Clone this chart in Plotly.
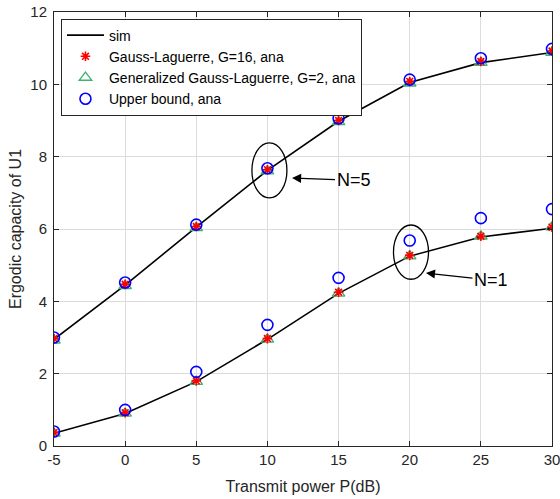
import plotly.graph_objects as go

P_dB = [-5, 0, 5, 10, 15, 20, 25, 30]

sim_N5 = [2.95, 4.45, 6.05, 7.62, 8.98, 10.05, 10.60, 10.88]
gl_N5 = [2.97, 4.47, 6.07, 7.64, 9.00, 10.08, 10.63, 10.92]
ggl_N5 = [2.92, 4.43, 6.03, 7.60, 8.96, 10.03, 10.60, 10.88]
ub_N5 = [3.00, 4.52, 6.12, 7.68, 9.06, 10.13, 10.72, 10.98]

sim_N1 = [0.35, 0.90, 1.78, 2.95, 4.22, 5.25, 5.78, 6.02]
gl_N1 = [0.37, 0.92, 1.80, 2.97, 4.25, 5.27, 5.80, 6.05]
ggl_N1 = [0.35, 0.90, 1.78, 2.95, 4.22, 5.25, 5.80, 6.05]
ub_N1 = [0.40, 1.00, 2.05, 3.35, 4.65, 5.68, 6.30, 6.55]

x_ticks = [-5, 0, 5, 10, 15, 20, 25, 30]
x_tick_text = ["-5", "0", "5", "10", "15", "20", "25", "30"]
y_ticks = [0, 2, 4, 6, 8, 10, 12]

FONT = "Liberation Sans, Arial, Helvetica, sans-serif"

fig = go.Figure()

for i, (s, g, gg, u) in enumerate([(sim_N5, gl_N5, ggl_N5, ub_N5), (sim_N1, gl_N1, ggl_N1, ub_N1)]):
    show = i == 0
    fig.add_trace(go.Scatter(x=P_dB, y=s, mode="lines", name="sim", legendgroup="sim",
                             showlegend=show, legendrank=1,
                             line=dict(color="black", width=1.6)))
    fig.add_trace(go.Scatter(x=P_dB, y=gg, mode="markers", name="Generalized Gauss-Laguerre, G=2, ana",
                             legendgroup="ggl", showlegend=show, legendrank=3,
                             marker=dict(symbol="triangle-up-open", size=11, color="#3cb371",
                                         line=dict(width=1.3, color="#3cb371"))))
    fig.add_trace(go.Scatter(x=P_dB, y=g, mode="markers", name="Gauss-Laguerre, G=16, ana",
                             legendgroup="gl", showlegend=show, legendrank=2,
                             marker=dict(symbol="asterisk-open", size=8, color="red",
                                         line=dict(width=1.6, color="red"))))
    fig.add_trace(go.Scatter(x=P_dB, y=u, mode="markers", name="Upper bound, ana",
                             legendgroup="ub", showlegend=show, legendrank=4,
                             marker=dict(symbol="circle-open", size=11, color="blue",
                                         line=dict(width=1.6, color="blue"))))

# ellipses
fig.add_shape(type="circle", xref="x", yref="y", x0=10.14 - 1.23, x1=10.14 + 1.23,
              y0=7.62 - 0.76, y1=7.62 + 0.76, line=dict(color="black", width=1.3))
fig.add_shape(type="circle", xref="x", yref="y", x0=20.09 - 1.23, x1=20.09 + 1.23,
              y0=5.36 - 0.75, y1=5.36 + 0.75, line=dict(color="black", width=1.3))

fig.add_annotation(x=11.73, y=7.41, ax=16.05, ay=7.35, axref="x", ayref="y", xref="x", yref="y",
                   text="N=5", showarrow=True, arrowhead=2, arrowsize=1.4, arrowwidth=1.3,
                   arrowcolor="black", font=dict(size=18, color="black", family=FONT))
fig.add_annotation(x=21.14, y=4.78, ax=25.71, ay=4.59, axref="x", ayref="y", xref="x", yref="y",
                   text="N=1", showarrow=True, arrowhead=2, arrowsize=1.4, arrowwidth=1.3,
                   arrowcolor="black", font=dict(size=18, color="black", family=FONT))

axis_common = dict(showgrid=True, gridcolor="#dcdcdc", gridwidth=1, showline=True, linecolor="#262626",
                   linewidth=1, mirror="ticks", ticks="inside", ticklen=5, tickcolor="#262626",
                   zeroline=False, automargin=False, ticklabeloverflow="allow",
                   tickfont=dict(size=15, color="#262626", family=FONT))

fig.update_layout(
    width=560, height=499,
    margin=dict(l=54, r=8, t=12, b=53),
    paper_bgcolor="white", plot_bgcolor="white",
    font=dict(family=FONT, color="#262626"),
    xaxis=dict(range=[-5, 30], tickvals=x_ticks, ticktext=x_tick_text,
               title=dict(text="Transmit power P(dB)", font=dict(size=16), standoff=13),
               **axis_common),
    yaxis=dict(range=[0, 12], tickvals=y_ticks, ticklabelstandoff=3,
               title=dict(text="Ergodic capacity of U1", font=dict(size=16), standoff=4),
               **axis_common),
    legend=dict(x=0.014, y=0.985, xanchor="left", yanchor="top", bgcolor="white",
                bordercolor="#262626", borderwidth=1, font=dict(size=14, color="black", family=FONT),
                tracegroupgap=0, itemwidth=37),
    showlegend=True,
)

fig.write_html("out.html")
